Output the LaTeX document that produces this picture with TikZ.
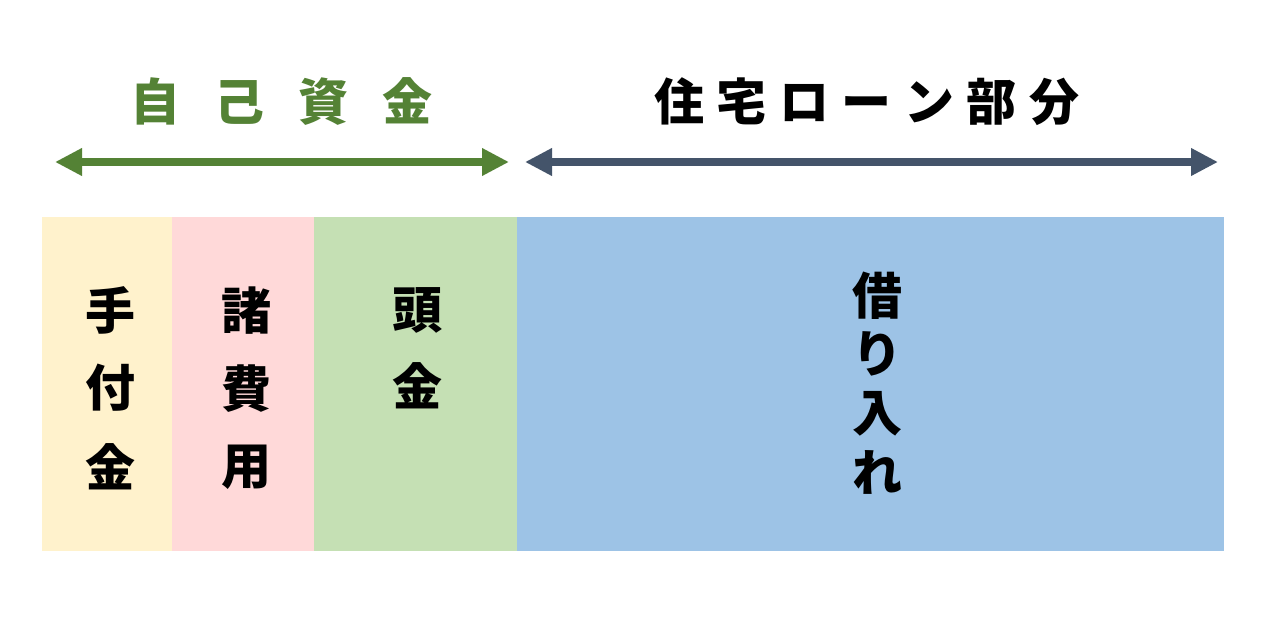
\documentclass[tikz,border=0pt]{standalone}
\usepackage{fontspec}
\newfontfamily\jp{Noto Sans CJK JP}
\usetikzlibrary{arrows.meta}
\definecolor{cyellow}{HTML}{FFF2CC}
\definecolor{cpink}{HTML}{FFD9D9}
\definecolor{cgreen}{HTML}{C5E0B4}
\definecolor{cblue}{HTML}{9DC3E6}
\definecolor{agreen}{HTML}{548235}
\definecolor{ablue}{HTML}{44546A}
\tikzset{
  head/.style={font=\jp\bfseries\fontsize{50}{50}\selectfont,inner sep=0pt},
  ch/.style={font=\jp\bfseries\fontsize{50}{50}\selectfont,inner sep=0pt,text=black},
  span/.style={line width=8.5pt,{Triangle[length=27pt,width=26pt]}-{Triangle[length=27pt,width=26pt]}}
}
\begin{document}
\begin{tikzpicture}[x=1pt,y=-1pt]
\useasboundingbox (0,0) rectangle (1269,634);
\fill[white] (0,0) rectangle (1269,634);
% bands
\fill[cyellow] (42,217) rectangle (172,551);
\fill[cpink] (172,217) rectangle (314,551);
\fill[cgreen] (314,217) rectangle (517,551);
\fill[cblue] (517,217) rectangle (1224,551);
% headings
\node[head,text=agreen] (h1) at (281.5,101.5) {自\hspace{33.7pt}己\hspace{33.7pt}資\hspace{33.7pt}金};
\node[head,text=black] (h2) at (866.5,101.5) {住\hspace{12.5pt}宅\hspace{12.5pt}ロ\hspace{12.5pt}ー\hspace{12.5pt}ン\hspace{12.5pt}部\hspace{12.5pt}分};
% arrows
\coordinate (g1) at (55,162);
\coordinate (g2) at (509,162);
\coordinate (b1) at (525,162);
\coordinate (b2) at (1218,162);
\draw[span,agreen] (g1) -- (g2);
\draw[span,ablue] (b1) -- (b2);
% column texts
\node[ch] (a1) at (110,310.5) {手};
\node[ch] (a2) at (110,388) {付};
\node[ch] (a3) at (110,467) {金};
\node[ch] (b1t) at (246,311) {諸};
\node[ch] (b2t) at (246,389) {費};
\node[ch] (b3t) at (246,467) {用};
\node[ch] (c1) at (417,310.5) {頭};
\node[ch] (c2) at (417,386) {金};
\node[ch] (d1) at (877,296) {借};
\node[ch] (d2) at (877,353.5) {り};
\node[ch] (d3) at (877,413.5) {入};
\node[ch] (d4) at (877,472.5) {れ};
\end{tikzpicture}
\end{document}
